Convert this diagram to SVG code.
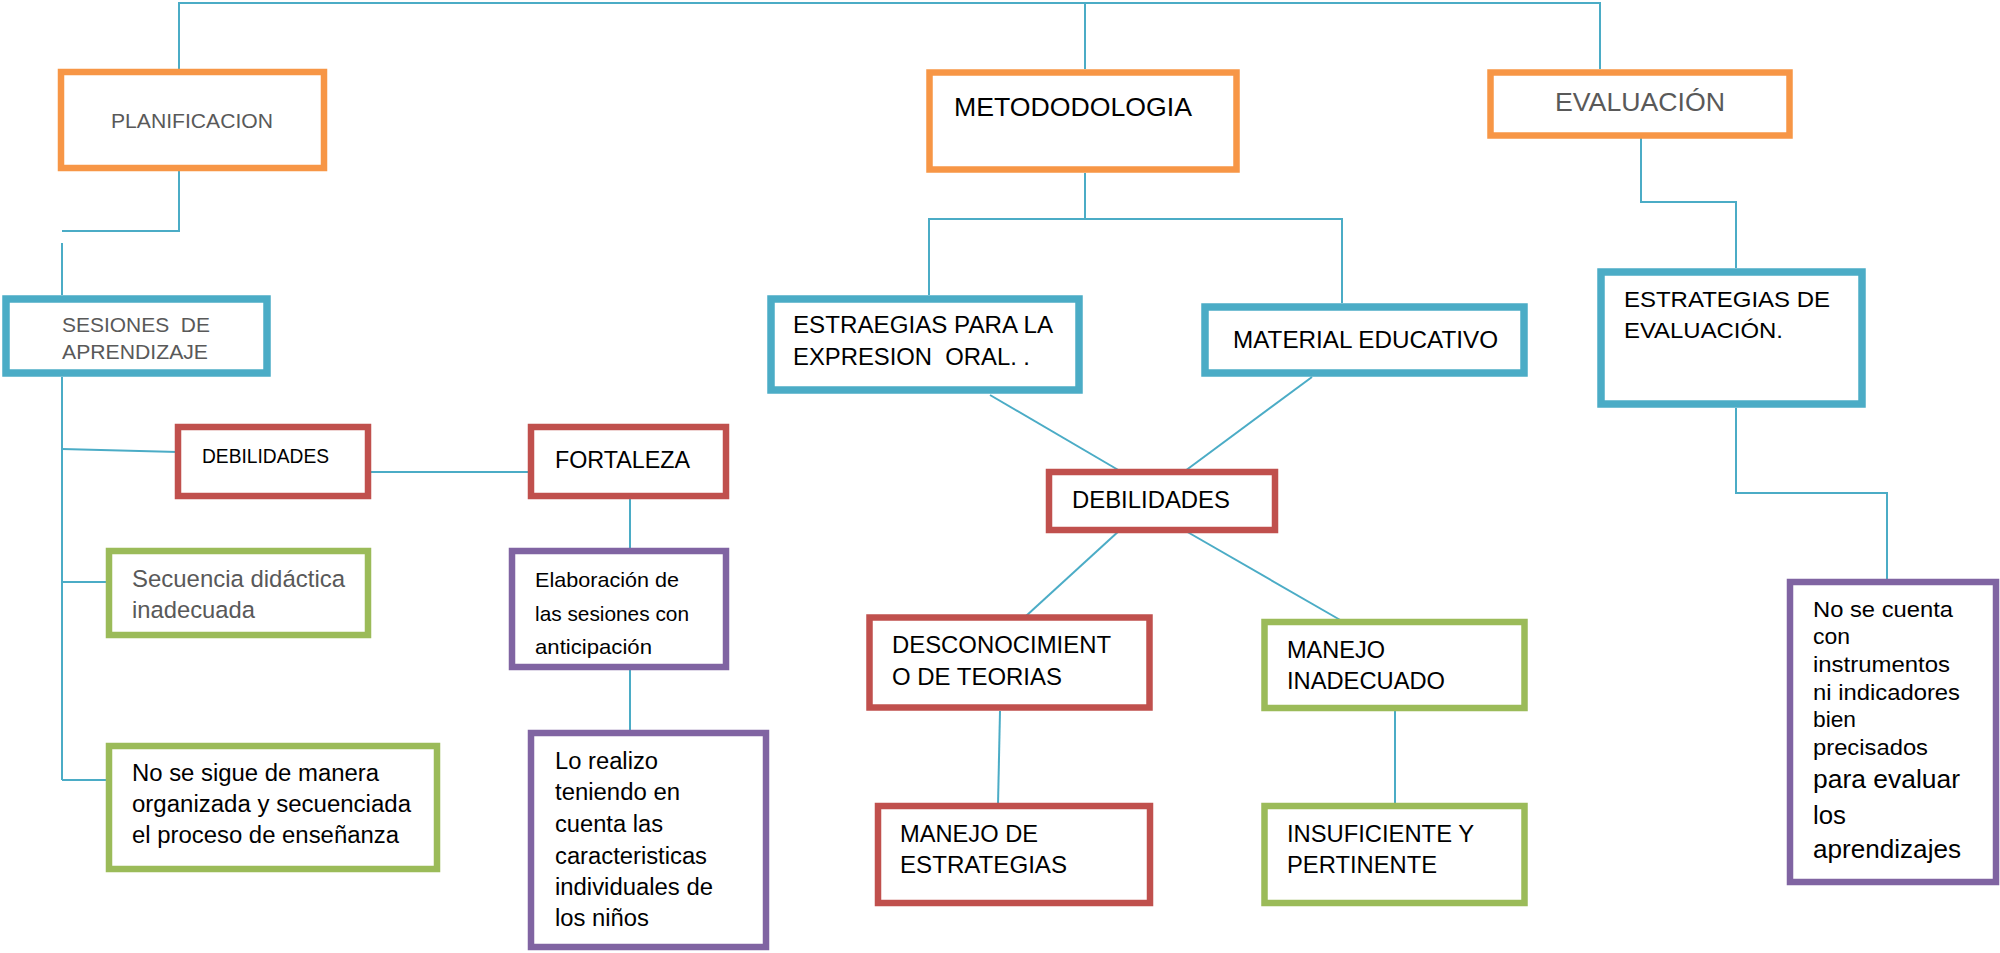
<svg xmlns="http://www.w3.org/2000/svg" width="2000" height="953" viewBox="0 0 2000 953">
<style>
.box{fill:#fff}
.or{stroke:#F79646;stroke-width:6.5}
.bl{stroke:#4BACC6;stroke-width:7.5}
.rd{stroke:#C0504D;stroke-width:6.5}
.gr{stroke:#9BBB59;stroke-width:6.5}
.pu{stroke:#8064A2;stroke-width:6.5}
.c{fill:none;stroke:#4BACC6;stroke-width:2}
text{font-family:"Liberation Sans",Arial,sans-serif;fill:#000}
.g{fill:#595959}
</style>
<rect width="2000" height="953" fill="#fff"/>
<g id="connectors">
<polyline class="c" points="179,69 179,3 1600,3 1600,69"/>
<line class="c" x1="1085" y1="3" x2="1085" y2="69"/>
<polyline class="c" points="179,171 179,231 62,231"/>
<line class="c" x1="62" y1="243" x2="62" y2="295"/>
<line class="c" x1="62" y1="377" x2="62" y2="780"/>
<line class="c" x1="62" y1="449" x2="178" y2="452"/>
<line class="c" x1="62" y1="582" x2="106" y2="582"/>
<line class="c" x1="62" y1="780" x2="106" y2="780"/>
<line class="c" x1="368" y1="472" x2="531" y2="472"/>
<line class="c" x1="630" y1="499" x2="630" y2="550"/>
<line class="c" x1="630" y1="670" x2="630" y2="732"/>
<line class="c" x1="1085" y1="173" x2="1085" y2="219"/>
<polyline class="c" points="929,295 929,219 1342,219 1342,303"/>
<line class="c" x1="990" y1="395" x2="1120" y2="471"/>
<line class="c" x1="1312" y1="377" x2="1185" y2="471"/>
<line class="c" x1="1120" y1="530" x2="1026" y2="616"/>
<line class="c" x1="1184" y1="530" x2="1342" y2="621"/>
<line class="c" x1="1000" y1="711" x2="998" y2="805"/>
<line class="c" x1="1395" y1="711" x2="1395" y2="805"/>
<polyline class="c" points="1641,138 1641,202 1736,202 1736,268"/>
<polyline class="c" points="1736,408 1736,493 1887,493 1887,582"/>
</g>
<g id="planificacion"><rect class="box or" x="61" y="72" width="263" height="96"/><text class="g" x="111" y="128" font-size="21" textLength="162" lengthAdjust="spacingAndGlyphs">PLANIFICACION</text></g>
<g id="sesiones"><rect class="box bl" x="6" y="299" width="261" height="74"/><text class="g" x="62" y="332" font-size="21" xml:space="preserve" textLength="148" lengthAdjust="spacingAndGlyphs">SESIONES  DE</text><text class="g" x="62" y="359" font-size="21" textLength="146" lengthAdjust="spacingAndGlyphs">APRENDIZAJE</text></g>
<g id="debilidades1"><rect class="box rd" x="178" y="427" width="190" height="69"/><text x="202" y="463" font-size="20.5" textLength="127" lengthAdjust="spacingAndGlyphs">DEBILIDADES</text></g>
<g id="fortaleza"><rect class="box rd" x="531" y="427" width="195" height="69"/><text x="555" y="468" font-size="24.5" textLength="135" lengthAdjust="spacingAndGlyphs">FORTALEZA</text></g>
<g id="secuencia"><rect class="box gr" x="109" y="551" width="259" height="84"/><text class="g" x="132" y="587" font-size="24.5" textLength="213" lengthAdjust="spacingAndGlyphs">Secuencia didáctica</text><text class="g" x="132" y="618" font-size="24.5" textLength="123" lengthAdjust="spacingAndGlyphs">inadecuada</text></g>
<g id="nosesigue"><rect class="box gr" x="109" y="746" width="328" height="123"/><text x="132" y="781" font-size="23" textLength="247" lengthAdjust="spacingAndGlyphs">No se sigue de manera</text><text x="132" y="812" font-size="23" textLength="279" lengthAdjust="spacingAndGlyphs">organizada y secuenciada</text><text x="132" y="843" font-size="23" textLength="267" lengthAdjust="spacingAndGlyphs">el proceso de enseñanza</text></g>
<g id="elaboracion"><rect class="box pu" x="512" y="551" width="214" height="116"/><text x="535" y="587" font-size="21" textLength="144" lengthAdjust="spacingAndGlyphs">Elaboración de</text><text x="535" y="621" font-size="21" textLength="154" lengthAdjust="spacingAndGlyphs">las sesiones con</text><text x="535" y="654" font-size="21" textLength="117" lengthAdjust="spacingAndGlyphs">anticipación</text></g>
<g id="lorealizo"><rect class="box pu" x="531" y="733" width="235" height="214"/><text x="555" y="769" font-size="23" textLength="103" lengthAdjust="spacingAndGlyphs">Lo realizo</text><text x="555" y="800" font-size="23" textLength="125" lengthAdjust="spacingAndGlyphs">teniendo en</text><text x="555" y="832" font-size="23" textLength="108" lengthAdjust="spacingAndGlyphs">cuenta las</text><text x="555" y="864" font-size="23" textLength="152" lengthAdjust="spacingAndGlyphs">caracteristicas</text><text x="555" y="895" font-size="23" textLength="158" lengthAdjust="spacingAndGlyphs">individuales de</text><text x="555" y="926" font-size="23" textLength="94" lengthAdjust="spacingAndGlyphs">los niños</text></g>
<g id="metodologia"><rect class="box or" x="929.5" y="72.5" width="307" height="97"/><text x="954" y="116" font-size="26" textLength="238" lengthAdjust="spacingAndGlyphs">METODODOLOGIA</text></g>
<g id="estraegias"><rect class="box bl" x="771" y="299" width="308" height="91"/><text x="793" y="333" font-size="23" textLength="260" lengthAdjust="spacingAndGlyphs">ESTRAEGIAS PARA LA</text><text x="793" y="365" font-size="23" xml:space="preserve" textLength="237" lengthAdjust="spacingAndGlyphs">EXPRESION  ORAL. .</text></g>
<g id="material"><rect class="box bl" x="1205" y="307" width="319" height="66"/><text x="1233" y="348" font-size="23.5" textLength="265" lengthAdjust="spacingAndGlyphs">MATERIAL EDUCATIVO</text></g>
<g id="debilidades2"><rect class="box rd" x="1049" y="472" width="226" height="58"/><text x="1072" y="508" font-size="23.5" textLength="158" lengthAdjust="spacingAndGlyphs">DEBILIDADES</text></g>
<g id="desconocimiento"><rect class="box rd" x="869.5" y="617.5" width="280" height="90"/><text x="892" y="653" font-size="24" textLength="219" lengthAdjust="spacingAndGlyphs">DESCONOCIMIENT</text><text x="892" y="685" font-size="24" textLength="170" lengthAdjust="spacingAndGlyphs">O DE TEORIAS</text></g>
<g id="manejoestrategias"><rect class="box rd" x="878" y="806" width="272" height="97"/><text x="900" y="842" font-size="24" textLength="138" lengthAdjust="spacingAndGlyphs">MANEJO DE</text><text x="900" y="873" font-size="24" textLength="167" lengthAdjust="spacingAndGlyphs">ESTRATEGIAS</text></g>
<g id="manejoinadecuado"><rect class="box gr" x="1264.5" y="622" width="260" height="86"/><text x="1287" y="658" font-size="24" textLength="98" lengthAdjust="spacingAndGlyphs">MANEJO</text><text x="1287" y="689" font-size="24" textLength="158" lengthAdjust="spacingAndGlyphs">INADECUADO</text></g>
<g id="insuficiente"><rect class="box gr" x="1264.5" y="806" width="260" height="97"/><text x="1287" y="842" font-size="24" textLength="187" lengthAdjust="spacingAndGlyphs">INSUFICIENTE Y</text><text x="1287" y="873" font-size="24" textLength="150" lengthAdjust="spacingAndGlyphs">PERTINENTE</text></g>
<g id="evaluacion"><rect class="box or" x="1490.5" y="72.5" width="299" height="63"/><text class="g" x="1555" y="111" font-size="26" textLength="170" lengthAdjust="spacingAndGlyphs">EVALUACIÓN</text></g>
<g id="estrategiasevaluacion"><rect class="box bl" x="1601" y="272" width="261" height="132"/><text x="1624" y="307" font-size="22.5" textLength="206" lengthAdjust="spacingAndGlyphs">ESTRATEGIAS DE</text><text x="1624" y="338" font-size="22.5" textLength="159" lengthAdjust="spacingAndGlyphs">EVALUACIÓN.</text></g>
<g id="nosecuenta"><rect class="box pu" x="1790" y="582" width="206" height="300"/>
<text x="1813" y="617" font-size="22" textLength="140" lengthAdjust="spacingAndGlyphs">No se cuenta</text>
<text x="1813" y="644" font-size="22" textLength="37" lengthAdjust="spacingAndGlyphs">con</text>
<text x="1813" y="672" font-size="22" textLength="137" lengthAdjust="spacingAndGlyphs">instrumentos</text>
<text x="1813" y="700" font-size="22" textLength="147" lengthAdjust="spacingAndGlyphs">ni indicadores</text>
<text x="1813" y="727" font-size="22" textLength="43" lengthAdjust="spacingAndGlyphs">bien</text>
<text x="1813" y="755" font-size="22" textLength="115" lengthAdjust="spacingAndGlyphs">precisados</text>
<text x="1813" y="788" font-size="25" textLength="147" lengthAdjust="spacingAndGlyphs">para evaluar</text>
<text x="1813" y="824" font-size="25" textLength="33" lengthAdjust="spacingAndGlyphs">los</text>
<text x="1813" y="858" font-size="25" textLength="148" lengthAdjust="spacingAndGlyphs">aprendizajes</text>
</g>
</svg>
